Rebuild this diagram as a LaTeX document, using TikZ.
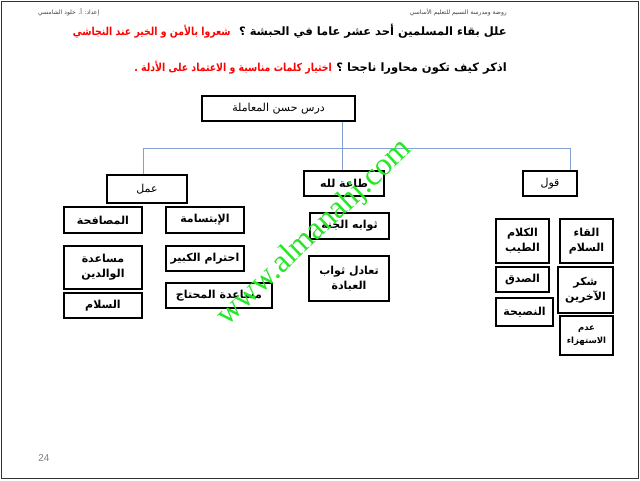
\documentclass[tikz,border=0pt]{standalone}
\usepackage{fontspec}
\setmainfont{Liberation Serif}
\newfontfamily\ar[Script=Arabic]{DejaVu Sans}
\newfontfamily\arn[Script=Arabic,FakeStretch=0.85]{DejaVu Sans}
\newfontfamily\wmfont{Liberation Serif}
\newfontfamily\lsans{Liberation Sans}
\TeXXeTstate=1
\definecolor{linkblue}{RGB}{130,160,210}
\definecolor{wmgreen}{RGB}{40,230,40}
\begin{document}
\begin{tikzpicture}[x=1pt,y=-1pt,
  box/.style={draw, line width=1.2pt, inner sep=0pt, align=center,
    font=\ar\bfseries\fontsize{11}{15}\selectfont},
  plainbox/.style={box, font=\ar\fontsize{11}{15}\selectfont},
  link/.style={draw=linkblue, line width=0.8pt},
  qtext/.style={font=\ar\bfseries\fontsize{11.5}{13}\selectfont, inner sep=0pt},
  atext/.style={font=\arn\bfseries\fontsize{11}{13}\selectfont, inner sep=0pt, text=red},
  small/.style={font=\ar\fontsize{6}{7}\selectfont, text=black!75, inner sep=0pt}]
\useasboundingbox (0,0) rectangle (640,480);
\draw[line width=1.4pt, black!80] (1.2,1.2) rectangle (638.3,478.3);

% header
\node[small, anchor=east] (h1) at (507,12) {\beginR روضة ومدرسة النسيم للتعليم الأساسي\endR};
\node[small, anchor=west] (h2) at (38,12) {\beginR إعداد: أ. خلود الشامسي\endR};

\node[qtext, anchor=base east] (q1) at (507,35) {\beginR علل بقاء المسلمين أحد عشر عاما في الحبشة ؟\endR};
\node[atext, anchor=base east] (a1) at ([xshift=-8pt]q1.base west) {\beginR شعروا بالأمن و الخير عند النجاشي\endR};
\node[qtext, anchor=base east] (q2) at (507,71) {\beginR اذكر كيف تكون محاورا ناجحا ؟\endR};
\node[atext, anchor=base east] (a2) at ([xshift=-4pt]q2.base west) {\beginR اختيار كلمات مناسبة و الاعتماد على الأدلة .\endR};

% level 0 and 1
\node[plainbox, minimum width=153pt, minimum height=25pt] (main) at (278.5,108.5) {\beginR درس حسن المعاملة\endR};
\node[plainbox, minimum width=80pt, minimum height=28pt] (amal) at (147,189) {\beginR عمل\endR};
\node[box, minimum width=80pt, minimum height=25pt] (taa) at (344,183.5) {\beginR طاعة لله\endR};
\node[plainbox, minimum width=54pt, minimum height=25pt] (qawl) at (550,183.5) {\beginR قول\endR};

% connectors
\coordinate (busL) at (143,148.5);
\coordinate (busR) at (570,148.5);
\draw[link] (main.south -| 342,0) -- (taa.north -| 342,0);
\draw[link] (busL |- amal.north) -- (busL) -- (busR) -- (busR |- qawl.north);

% amal column
\node[box, minimum width=78pt, minimum height=26pt] (musafaha) at (103,220) {\beginR المصافحة\endR};
\node[box, minimum width=78pt, minimum height=26pt] (ibtisama) at (205,220) {\beginR الإبتسامة\endR};
\node[box, minimum width=78pt, minimum height=43pt] (walidayn) at (103,267.5) {\beginR مساعدة\endR\\\beginR الوالدين\endR};
\node[box, minimum width=78pt, minimum height=25pt] (salam) at (103,305.5) {\beginR السلام\endR};
\node[box, minimum width=78pt, minimum height=25pt] (kabir) at (205,258.5) {\beginR احترام الكبير\endR};
\node[box, minimum width=106pt, minimum height=25pt] (muhtaj) at (219,295.5) {\beginR مساعدة المحتاج\endR};

% taa column
\node[box, minimum width=79pt, minimum height=26pt] (janna) at (349.5,226) {\beginR ثوابه الجنة\endR};
\node[box, minimum width=80pt, minimum height=45pt] (taadul) at (349,278.5) {\beginR تعادل ثواب\endR\\\beginR العبادة\endR};

% qawl columns
\node[box, minimum width=53pt, minimum height=44pt] (kalam) at (522.5,241) {\beginR الكلام\endR\\\beginR الطيب\endR};
\node[box, minimum width=53pt, minimum height=44pt] (ilqa) at (586.5,241) {\beginR القاء\endR\\\beginR السلام\endR};
\node[box, minimum width=53pt, minimum height=25pt] (sidq) at (522.5,279.5) {\beginR الصدق\endR};
\node[box, minimum width=57pt, minimum height=28pt] (nasiha) at (524.5,312) {\beginR النصيحة\endR};
\node[box, minimum width=55pt, minimum height=46pt] (shukr) at (585.5,290) {\beginR شكر\endR\\\beginR الآخرين\endR};
\node[box, minimum width=53pt, minimum height=39pt, font=\ar\bfseries\fontsize{8.5}{13}\selectfont] (adam) at (586.5,335.5) {\beginR عدم\endR\\\beginR الاستهزاء\endR};

% watermark
\node[rotate=43.5, text=wmgreen, font=\wmfont\fontsize{32}{32}\selectfont, inner sep=0pt] (wm) at (315,233) {www.almanahj.com};

% page number
\node[text=black!50, font=\lsans\fontsize{10}{12}\selectfont, inner sep=0pt] (pg) at (44,458) {24};
\end{tikzpicture}
\end{document}
